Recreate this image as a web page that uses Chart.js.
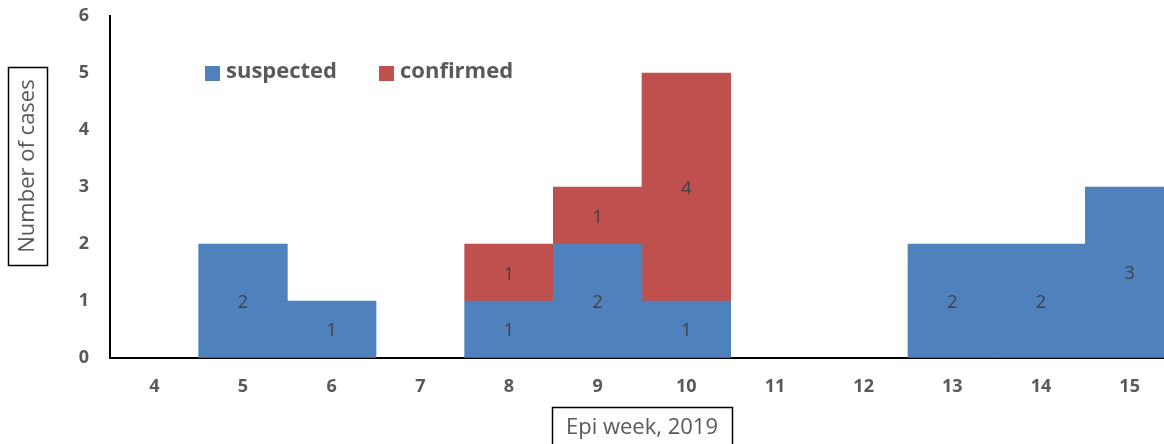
<!DOCTYPE html>
<html><head><meta charset="utf-8">
<script src="https://cdn.jsdelivr.net/npm/chart.js@4/dist/chart.umd.min.js"></script>
<style>html,body{margin:0;padding:0;overflow:hidden;background:#fff;width:1164px;height:444px}
#wrap{position:absolute;left:0;top:0;width:1174px;height:444px}</style>
</head><body><div id="wrap"><canvas id="c" width="1174" height="444"></canvas></div>
<script>
const weeks = ['4','5','6','7','8','9','10','11','12','13','14','15'];
const suspected = [0,2,1,0,1,2,1,0,0,2,2,3];
const confirmed = [0,0,0,0,1,1,4,0,0,0,0,0];
const yTicks = [0,1,2,3,4,5,6];
const seriesNames = ['suspected','confirmed'];
const xTitle = 'Epi week, 2019';
const yTitle = 'Number of cases';

const FONT = '"Open Sans", "Liberation Sans", sans-serif';
const GREY = '#595959';

const extras = {
  id:'extras',
  afterDatasetsDraw(chart){
    const ctx = chart.ctx;
    ctx.save();
    ctx.font = '18px ' + FONT;
    ctx.fillStyle = '#404040';
    ctx.textAlign='center'; ctx.textBaseline='middle';
    chart.data.datasets.forEach((ds,i)=>{
      const meta = chart.getDatasetMeta(i);
      meta.data.forEach((bar,j)=>{
        const v = ds.data[j];
        if(!v) return;
        const p = bar.getProps(['x','y','base'],true);
        ctx.fillText(String(v), p.x, (p.y+p.base)/2 + 2);
      });
    });
    ctx.restore();
  },
  afterDraw(chart){
    const ctx = chart.ctx;
    ctx.save();
    ctx.font = 'bold 22px ' + FONT;
    ctx.textBaseline='middle'; ctx.textAlign='left';
    const lx = [205, 379];
    chart.data.datasets.forEach((ds,i)=>{
      ctx.fillStyle = ds.backgroundColor;
      ctx.fillRect(lx[i], 66, 15, 15);
      ctx.fillStyle = GREY;
      ctx.fillText(ds.label, lx[i]+21, 72);
    });
    ctx.font = '22px ' + FONT;
    ctx.fillStyle = GREY; ctx.textAlign='center';
    ctx.fillText(xTitle, 642, 428);
    ctx.strokeStyle='#000'; ctx.lineWidth=1.5;
    ctx.strokeRect(552.5, 407.5, 180, 50);
    ctx.translate(28, 166);
    ctx.rotate(-Math.PI/2);
    ctx.fillText(yTitle, 0, 0);
    ctx.setTransform(1,0,0,1,0,0);
    ctx.strokeRect(8.5, 67.5, 39, 198);
    ctx.restore();
  }
};

new Chart(document.getElementById('c'), {
  type:'bar',
  data:{labels:weeks, datasets:[
    {label:seriesNames[0], data:suspected.map(v=>v||null), backgroundColor:'#4F81BD', borderWidth:0},
    {label:seriesNames[1], data:confirmed.map(v=>v||null), backgroundColor:'#C0504D', borderWidth:0}
  ]},
  options:{
    responsive:false, animation:false,
    layout:{padding:{left:0,right:0,top:0,bottom:0}},
    datasets:{bar:{barPercentage:1, categoryPercentage:1}},
    plugins:{legend:{display:false}, tooltip:{enabled:false}},
    scales:{
      x:{stacked:true,
        grid:{display:true, drawOnChartArea:false, drawTicks:false, color:'rgba(0,0,0,0)'},
        border:{display:true,color:'#000',width:2},
        ticks:{color:GREY, font:{family:FONT, size:18, weight:'bold'}, padding:18},
        afterFit(s){s.height = 86; s.paddingLeft = 0; s.paddingRight = 0;}
      },
      y:{stacked:true, min:0, max:6,
        grid:{display:true, drawOnChartArea:false, drawTicks:false, color:'rgba(0,0,0,0)'},
        border:{display:true,color:'#000',width:2},
        afterBuildTicks(s){ s.ticks = yTicks.map(v=>({value:v})); },
        ticks:{color:GREY, font:{family:FONT, size:18, weight:'bold'}, padding:21},
        afterFit(s){s.width = 110; s.paddingTop = 16; s.paddingBottom = 0;}
      }
    }
  },
  plugins:[extras]
});
</script></body></html>
